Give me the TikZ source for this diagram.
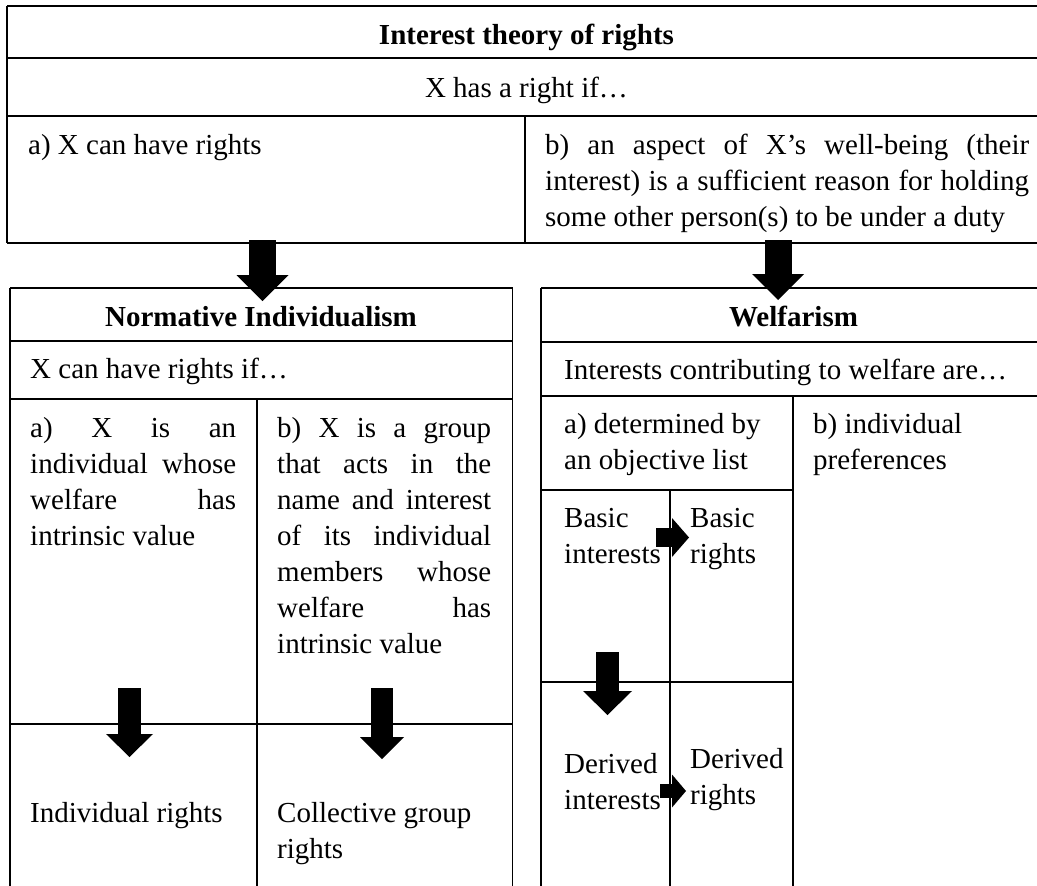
\documentclass[tikz,border=0pt]{standalone}
\usepackage{fontspec}
\setmainfont{Liberation Serif}
\usetikzlibrary{arrows.meta}
\hyphenpenalty=10000
\exhyphenpenalty=10000
\tikzset{
	rule/.style={line width=1.1pt, black},
	cell/.style={inner sep=0pt, anchor=base west, font=\fontsize{29}{36}\selectfont},
	headline/.style={inner sep=0pt, anchor=base, font=\fontsize{29}{36}\selectfont\bfseries},
	blockarrow/.style n args={3}{line width=#1, -{Triangle[width=#2, length=#3, line width=0pt]}},
}
\begin{document}
\begin{tikzpicture}[x=1pt, y=-1pt]
	\useasboundingbox (0,0) rectangle (1037,886);
	\clip (0,0) rectangle (1037,886);
	% theory table
	\foreach \y in {6,58,116,243}
		\draw[rule] (7,\y) -- (1045,\y);
	\draw[rule] (7,6) -- (7,243);
	\draw[rule] (525,116) -- (525,243);
	\node[headline] (title) at (526.5,44) {Interest theory of rights};
	\node[cell, anchor=base] (hasright) at (526.5,97) {X has a right if…};
	\node[cell] (condA) at (28,154) {a) X can have rights};
	\node[cell, text width=484pt, align=justify] (condB) at (545,154) {b) an aspect of X’s well-being (their\linebreak interest) is a sufficient reason for holding\linebreak some other person(s) to be under a duty};
	% normative individualism
	\foreach \y in {288,341,399,724}
		\draw[rule] (10,\y) -- (512.5,\y);
	\draw[rule] (10,288) -- (10,895);
	\draw[rule] (512.5,288) -- (512.5,895);
	\draw[rule] (257,399) -- (257,895);
	\node[headline] (normtitle) at (261,326) {Normative Individualism};
	\node[cell] (normif) at (30,378) {X can have rights if…};
	\node[cell, text width=206pt, align=justify] (normA) at (30,437) {a) X is an\linebreak individual whose\linebreak welfare has\linebreak intrinsic value};
	\node[cell, text width=214pt, align=justify] (normB) at (277,437) {b) X is a group\linebreak that acts in the\linebreak name and interest\linebreak of its individual\linebreak members whose\linebreak welfare has\linebreak intrinsic value};
	\node[cell] (indiv) at (30,822) {Individual rights};
	\node[cell, text width=214pt, align=flush left] (collect) at (277,822) {Collective group\\rights};
	% welfarism
	\foreach \y in {288,342,396}
		\draw[rule] (541,\y) -- (1045,\y);
	\draw[rule] (541,490) -- (793,490);
	\draw[rule] (541,682) -- (793,682);
	\draw[rule] (541,288) -- (541,895);
	\draw[rule] (793,396) -- (793,895);
	\draw[rule] (670,490) -- (670,895);
	\node[headline] (welftitle) at (793.5,326) {Welfarism};
	\node[cell] (welfif) at (564,379) {Interests contributing to welfare are…};
	\node[cell, text width=225pt, align=flush left] (welfA) at (564,433) {a) determined by\\an objective list};
	\node[cell, text width=220pt, align=flush left] (welfB) at (813,433) {b) individual\\preferences};
	\node[cell, text width=100pt, align=flush left] (basicint) at (564,527) {Basic\\interests};
	\node[cell, text width=100pt, align=flush left] (basicrig) at (690,527) {Basic\\rights};
	\node[cell, text width=100pt, align=flush left] (derint) at (564,773) {Derived\\interests};
	\node[cell, text width=100pt, align=flush left] (derrig) at (690,768) {Derived\\rights};
	% block arrows
	\coordinate (condA-out) at (262.5,240);
	\coordinate (normtitle-in) at (262.5,301);
	\coordinate (condB-out) at (778,240);
	\coordinate (welftitle-in) at (778,300);
	\coordinate (normA-out) at (129.5,688);
	\coordinate (indiv-in) at (129.5,757);
	\coordinate (normB-out) at (382,688);
	\coordinate (collect-in) at (382,759);
	\coordinate (basicint-out) at (607.5,652);
	\coordinate (derint-in) at (607.5,715);
	\coordinate (basicint-east) at (656,537.5);
	\coordinate (basicrig-west) at (689,537.5);
	\coordinate (derint-east) at (660,791);
	\coordinate (derrig-west) at (686,791);
	\draw[blockarrow={27pt}{52pt}{26pt}] (condA-out) -- (normtitle-in);
	\draw[blockarrow={27pt}{52pt}{26pt}] (condB-out) -- (welftitle-in);
	\draw[blockarrow={23pt}{47pt}{23pt}] (normA-out) -- (indiv-in);
	\draw[blockarrow={22pt}{44pt}{22pt}] (normB-out) -- (collect-in);
	\draw[blockarrow={23pt}{49pt}{24pt}] (basicint-out) -- (derint-in);
	\draw[blockarrow={19pt}{39pt}{17pt}] (basicint-east) -- (basicrig-west);
	\draw[blockarrow={14pt}{33pt}{14pt}] (derint-east) -- (derrig-west);
\end{tikzpicture}
\end{document}
